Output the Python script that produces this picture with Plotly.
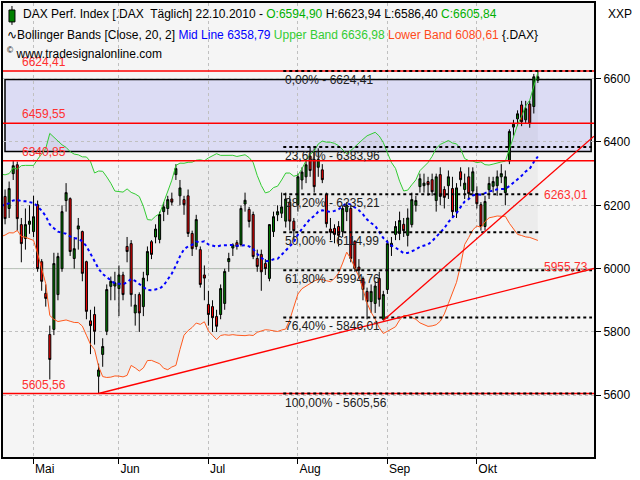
import pandas as pd
import plotly.graph_objects as go

# DAX daily candles, 21.04.2010 - 22.10.2010
dates = pd.bdate_range("2010-04-21", "2010-10-22")
opens = [6200, 6228, 6190, 6300, 6328, 6139, 6095, 6140,
         6117, 6202, 6022, 5922, 5792, 5808, 5918, 6000, 6215, 6221, 6032, 6125, 6117, 6022, 5835, 5855, 5660, 5729, 5802, 5944, 5945,
         5937, 5980, 6070, 6079, 5860, 5918, 5880, 5980, 6085, 6100, 6092, 6180, 6190, 6220, 6297, 6230, 6218, 6230, 6111, 6070, 6060, 5980,
         5887, 5880, 5849, 5855, 5890, 6022, 6065, 6082, 6076, 6204, 6187, 6171, 6032, 6045, 6016, 5969, 6117, 6170, 6175, 6150, 6210, 6150,
         6202, 6280, 6290, 6355, 6345, 6320, 6312, 6234, 6125, 6127, 6133, 6117, 6180, 6190, 6086, 6005, 5969, 5928, 5896, 5890, 5969, 5840,
         5934, 6070, 6108, 6111, 6140, 6105, 6139, 6200, 6259, 6262, 6275, 6281, 6215, 6297, 6250, 6262, 6253, 6180, 6306, 6250, 6290, 6245,
         6237, 6202, 6133, 6249, 6260, 6262, 6290, 6240, 6340, 6447, 6473, 6517, 6470, 6520, 6512, 6594.90]
highs = [6240, 6250, 6275, 6340, 6338, 6160, 6190, 6200,
         6230, 6215, 6030, 5950, 5820, 6050, 6050, 6200, 6270, 6225, 6100, 6160, 6120, 6025, 5870, 5880, 5700, 5780, 5950, 5975, 5990,
         6010, 5990, 6100, 6090, 5920, 5925, 5990, 6070, 6090, 6140, 6180, 6210, 6230, 6240, 6330, 6280, 6230, 6250, 6120, 6170, 6070, 6010,
         5930, 5900, 5870, 5950, 6000, 6050, 6080, 6090, 6200, 6240, 6195, 6180, 6060, 6060, 6030, 6140, 6180, 6200, 6240, 6240, 6230, 6160,
         6300, 6320, 6340, 6385, 6380, 6380, 6330, 6240, 6160, 6140, 6150, 6200, 6210, 6200, 6090, 6030, 5975, 5940, 5950, 5960, 5990, 5930,
         6090, 6100, 6150, 6180, 6160, 6190, 6240, 6230, 6300, 6300, 6290, 6300, 6300, 6320, 6260, 6310, 6290, 6270, 6320, 6300, 6320, 6320,
         6260, 6210, 6230, 6290, 6290, 6310, 6330, 6310, 6440, 6470, 6500, 6530, 6530, 6530, 6615, 6623.94]
lows = [6140, 6140, 6160, 6280, 6120, 6020, 6060, 6110,
        6100, 5990, 5930, 5880, 5650, 5790, 5900, 5990, 6180, 6040, 6000, 6060, 5960, 5840, 5730, 5760, 5606, 5690, 5790, 5900, 5900,
        5850, 5900, 6020, 5880, 5820, 5800, 5850, 5960, 6030, 6080, 6080, 6150, 6170, 6200, 6280, 6200, 6170, 6100, 6040, 6060, 5940, 5900,
        5820, 5800, 5800, 5840, 5870, 5990, 6040, 6060, 6070, 6180, 6130, 6030, 5990, 5930, 5980, 5960, 6100, 6150, 6160, 6130, 6120, 6090,
        6180, 6250, 6270, 6290, 6240, 6290, 6270, 6130, 6090, 6080, 6070, 6100, 6150, 6020, 5990, 5970, 5900, 5840, 5860, 5860, 5880, 5836,
        5920, 6040, 6090, 6090, 6100, 6070, 6130, 6180, 6240, 6240, 6230, 6230, 6180, 6200, 6190, 6220, 6160, 6160, 6260, 6220, 6220, 6230,
        6190, 6120, 6120, 6220, 6240, 6230, 6270, 6200, 6330, 6420, 6450, 6450, 6460, 6445, 6490, 6586.40]
closes = [6160, 6158, 6253, 6325, 6158, 6079, 6139, 6150,
          6164, 6000, 5960, 5906, 5713, 6016, 6038, 6180, 6240, 6054, 6063, 6135, 5985, 5865, 5820, 5802, 5680, 5754, 5934, 5960, 5955,
          5980, 5918, 6054, 5918, 5885, 5860, 5970, 6054, 6045, 6125, 6171, 6195, 6218, 6210, 6316, 6255, 6202, 6111, 6063, 6155, 5950, 5970,
          5855, 5845, 5818, 5937, 5991, 6032, 6075, 6070, 6190, 6216, 6149, 6038, 6007, 5990, 6000, 6139, 6164, 6180, 6195, 6220, 6150, 6120,
          6290, 6305, 6328, 6310, 6259, 6345, 6281, 6142, 6115, 6108, 6105, 6190, 6200, 6032, 6000, 5995, 5934, 5896, 5928, 5945, 5903, 5918,
          6079, 6080, 6133, 6152, 6120, 6160, 6218, 6215, 6284, 6270, 6265, 6243, 6290, 6228, 6225, 6290, 6180, 6255, 6281, 6270, 6237, 6306,
          6205, 6133, 6212, 6269, 6275, 6290, 6300, 6290, 6433, 6456, 6489, 6464, 6505, 6458, 6606, 6605.84]
# closes before 21.04. needed to start the 20-day Bollinger bands
warmup_closes = [6130, 6140, 6150, 6120, 6160, 6154, 6200, 6215, 6220, 6230,
                 6250, 6240, 6250, 6255, 6260, 6290, 6230, 6180, 6160]

month_labels = ["Mai", "Jun", "Jul", "Aug", "Sep", "Okt"]
month_starts = ["2010-05-03", "2010-06-01", "2010-07-01", "2010-08-02", "2010-09-01", "2010-10-01"]

levels = [6624.41, 6459.55, 6340.85, 5605.56]
level_texts = ["6624,41", "6459,55", "6340,85", "5605,56"]
fib_values = [6624.41, 6383.96, 6235.21, 6114.99, 5994.76, 5846.01, 5605.56]
fib_texts = ["0,00% - 6624,41", "23,60% - 6383,96", "38,20% - 6235,21", "50,00% - 6114,99",
             "61,80% - 5994,76", "76,40% - 5846,01", "100,00% - 5605,56"]
fib_short = [False, False, True, True, False, False, False]
# trendlines: (start index, start value, value at last bar)
trend_a = (24, 5605.56, 5955.73)
trend_b = (94, 5836.0, 6263.01)

idx = list(range(len(dates)))
last = idx[-1]
month_idx = [int(dates.get_loc(pd.Timestamp(d))) for d in month_starts]

s = pd.Series(warmup_closes + closes)
mid = s.rolling(20).mean().iloc[len(warmup_closes):].tolist()
sd = s.rolling(20).std(ddof=0).iloc[len(warmup_closes):]
upper = (pd.Series(mid) + 2 * sd.values).tolist()
lower = (pd.Series(mid) - 2 * sd.values).tolist()

XR = [0.49, 145.8]
fig = go.Figure()
fig.add_trace(go.Scatter(x=idx, y=upper, mode="lines", line=dict(color="#33cc33", width=1), hoverinfo="skip"))
fig.add_trace(go.Scatter(x=idx, y=lower, mode="lines", line=dict(color="#ff5a1e", width=1),
                         fill="tonexty", fillcolor="rgba(0,0,0,0.035)", hoverinfo="skip"))
fig.add_trace(go.Scatter(x=idx, y=mid, mode="lines", line=dict(color="#0000ff", width=2, dash="dot"), hoverinfo="skip"))
fig.add_trace(go.Candlestick(
    x=idx, open=opens, high=highs, low=lows, close=closes, whiskerwidth=0,
    increasing=dict(line=dict(color="black", width=1), fillcolor="#008000"),
    decreasing=dict(line=dict(color="black", width=1), fillcolor="#ff0000"),
))

shapes = [
    dict(type="rect", xref="x", yref="y", x0=0.98, x1=145.1, y0=6370, y1=6597,
         fillcolor="#dcdcf4", line=dict(color="black", width=1.5), layer="below"),
    dict(type="line", xref="paper", yref="y", x0=0, x1=1, y0=6000, y1=6000,
         line=dict(color="#b4c4b4", width=1), layer="below"),
]
annotations = []
for v, t in zip(levels, level_texts):
    shapes.append(dict(type="line", xref="paper", yref="y", x0=0, x1=1, y0=v, y1=v,
                       line=dict(color="#ff0000", width=1.5)))
    annotations.append(dict(xref="paper", yref="y", x=0.028, y=v, text=t, showarrow=False,
                            xanchor="left", yanchor="bottom", font=dict(color="#ff3030", size=12)))
for v, t, short in zip(fib_values, fib_texts, fib_short):
    shapes.append(dict(type="line", xref="x", yref="y", x0=69.4, x1=last + 0.5 if short else 145.3, y0=v, y1=v,
                       line=dict(color="black", width=2, dash="dot")))
    annotations.append(dict(xref="x", yref="y", x=69.4, y=v, text=t, showarrow=False,
                            xanchor="left", yanchor="top", font=dict(color="#202020", size=12)))
for i0, v0, v1 in (trend_a, trend_b):
    slope = (v1 - v0) / (last - i0)
    shapes.append(dict(type="line", xref="x", yref="y", x0=i0, y0=v0, x1=XR[1], y1=v0 + slope * (XR[1] - i0),
                       line=dict(color="#ff0000", width=1.3)))
annotations.append(dict(xref="x", yref="y", x=last + 1, y=trend_b[2], text="6263,01", showarrow=False,
                        xanchor="left", yanchor="top", yshift=-1, font=dict(color="#ff3030", size=12)))
annotations.append(dict(xref="x", yref="y", x=last + 1, y=trend_a[2], text="5955,73", showarrow=False,
                        xanchor="left", yanchor="bottom", yshift=7, font=dict(color="#ff3030", size=12)))

# header
head1 = ("DAX Perf. Index [.DAX  Täglich] 22.10.2010 - <span style='color:#00b000'>O:6594,90</span>"
         " H:6623,94 L:6586,40 <span style='color:#00b000'>C:6605,84</span>")
head2 = ("∿Bollinger Bands [Close, 20, 2] <span style='color:#0000ff'>Mid Line 6358,79</span> "
         "<span style='color:#33cc33'>Upper Band 6636,98</span> "
         "<span style='color:#ff4a1a'>Lower Band 6080,61</span> {.DAX}")
head3 = "<sup>©</sup> www.tradesignalonline.com"
for t, ypx, xpx in ((head1, 12, 19), (head2, 33, 3), (head3, 51, 3)):
    annotations.append(dict(xref="paper", yref="paper", x=(xpx - 1) / 593, y=1 - (ypx - 1) / 456, text=t,
                            showarrow=False, xanchor="left", yanchor="middle", font=dict(color="black", size=12)))
annotations.append(dict(xref="paper", yref="paper", x=1.02, y=1 - 11 / 456, text="XXP", showarrow=False,
                        xanchor="left", yanchor="middle", font=dict(color="black", size=12)))
# small candle icon in the header
shapes.append(dict(type="line", xref="paper", yref="paper", x0=9 / 593, x1=9 / 593,
                   y0=1 - 22 / 456, y1=1 - 3 / 456, line=dict(color="black", width=1)))
shapes.append(dict(type="rect", xref="paper", yref="paper", x0=6 / 593, x1=12 / 593,
                   y0=1 - 19 / 456, y1=1 - 7 / 456, fillcolor="#008000", line=dict(color="black", width=1)))

fig.update_layout(
    width=640, height=480, margin=dict(l=1, r=46, t=1, b=23),
    paper_bgcolor="white", plot_bgcolor="#f5f5f5", showlegend=False,
    font=dict(family="Liberation Sans, Arial", size=12, color="black"),
    shapes=shapes, annotations=annotations,
    xaxis=dict(range=XR, rangeslider=dict(visible=False), tickmode="array", tickvals=month_idx,
               ticktext=month_labels, ticks="outside", ticklen=5, tickcolor="black",
               ticklabelposition="outside right", showgrid=True, gridcolor="#c0c0c0", griddash="dot",
               showline=True, linecolor="black", linewidth=2, mirror=True, zeroline=False),
    yaxis=dict(range=[5405, 6839], side="right", tickvals=[5600, 5800, 6000, 6200, 6400, 6600],
               ticks="outside", ticklen=5, tickcolor="black", showgrid=True, gridcolor="#c0c0c0",
               griddash="dot", showline=True, linecolor="black", linewidth=2, mirror=True, zeroline=False),
)

fig.write_html("out.html", config={"displayModeBar": False},
               post_script="document.body.style.margin='0';document.body.style.overflow='hidden';")
